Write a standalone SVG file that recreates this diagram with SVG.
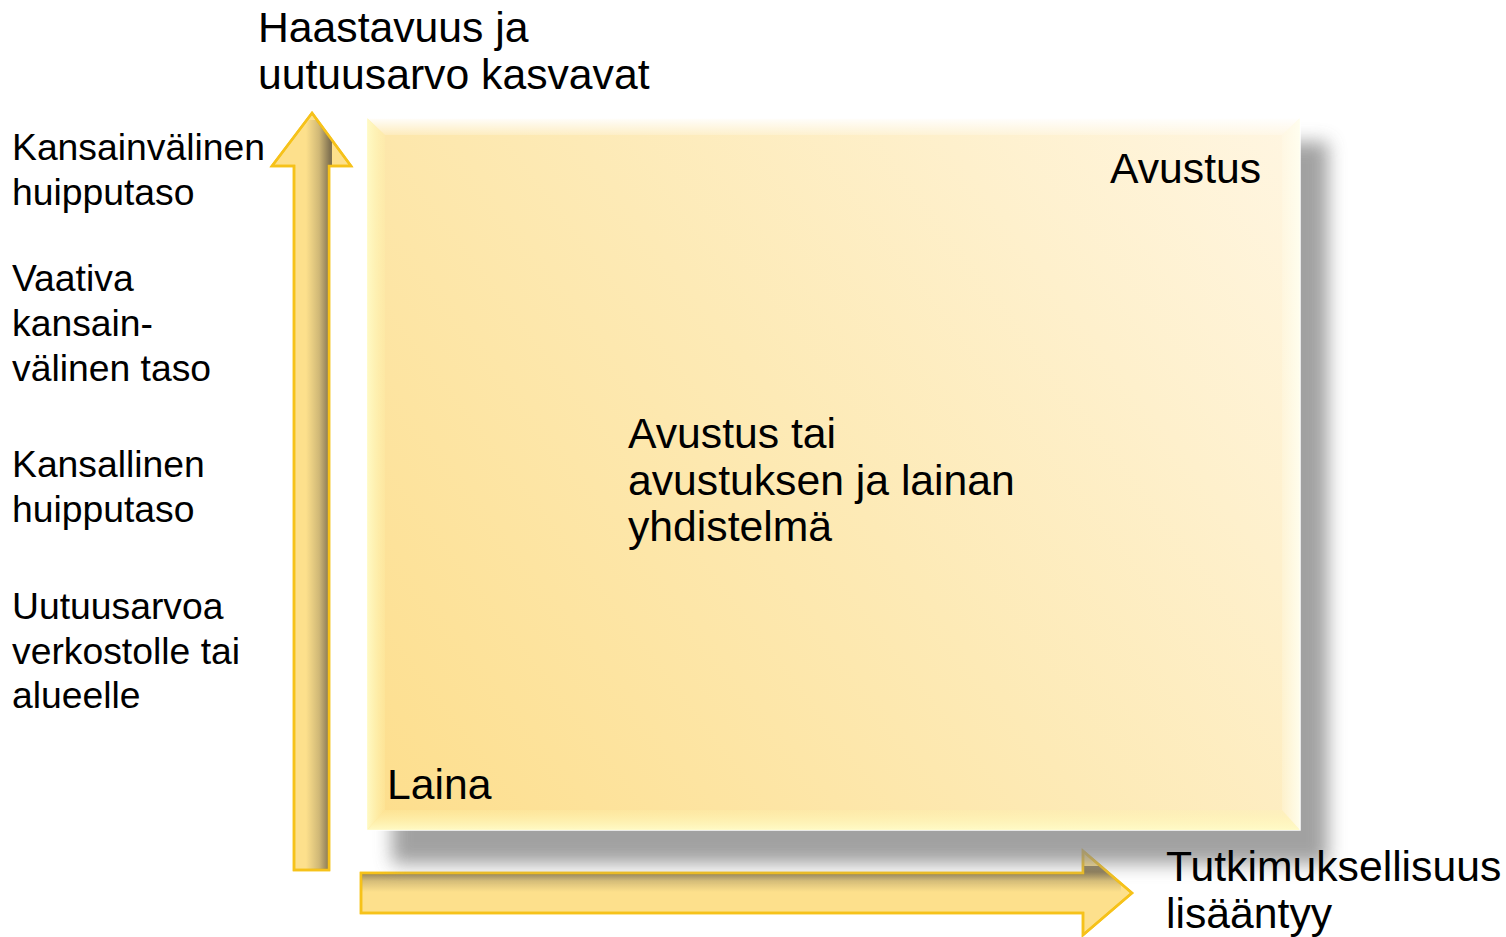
<svg xmlns="http://www.w3.org/2000/svg" width="1506" height="937" viewBox="0 0 1506 937">
<style>
  text { font-family: "Liberation Sans", Arial, sans-serif; fill: #000; }
  .big { font-size: 42.7px; }
  .lbl { font-size: 37.3px; }
  .arrow { fill: #FDE08C; stroke: #F6C21A; stroke-width: 2.5; stroke-linejoin: miter; }
</style>
<defs>
  <linearGradient id="boxFill" x1="367" y1="830" x2="1300" y2="118" gradientUnits="userSpaceOnUse">
    <stop offset="0" stop-color="#FDDE8C"/>
    <stop offset="0.5" stop-color="#FDEAB6"/>
    <stop offset="1" stop-color="#FFF6E2"/>
  </linearGradient>
  <linearGradient id="bevTop" x1="0" y1="0" x2="0" y2="1">
    <stop offset="0" stop-color="#FFFFFF" stop-opacity="0.95"/>
    <stop offset="1" stop-color="#FFFFFF" stop-opacity="0.2"/>
  </linearGradient>
  <linearGradient id="bevLeft" x1="0" y1="0" x2="1" y2="0">
    <stop offset="0" stop-color="#FFFBC8" stop-opacity="0.95"/>
    <stop offset="1" stop-color="#FFF6B0" stop-opacity="0.2"/>
  </linearGradient>
  <linearGradient id="bevBottom" x1="0" y1="1" x2="0" y2="0">
    <stop offset="0" stop-color="#FFFBC8" stop-opacity="0.95"/>
    <stop offset="1" stop-color="#FFF6B0" stop-opacity="0.2"/>
  </linearGradient>
  <linearGradient id="bevRight" x1="1" y1="0" x2="0" y2="0">
    <stop offset="0" stop-color="#FFFFF0" stop-opacity="0.9"/>
    <stop offset="1" stop-color="#FFFFF0" stop-opacity="0.2"/>
  </linearGradient>
  <filter id="shadow" x="-10%" y="-10%" width="120%" height="120%">
    <feGaussianBlur stdDeviation="9"/>
  </filter>
  <linearGradient id="upShade" x1="306" y1="0" x2="330" y2="0" gradientUnits="userSpaceOnUse">
    <stop offset="0" stop-color="#7A6C4E" stop-opacity="0"/>
    <stop offset="0.55" stop-color="#7A6C4E" stop-opacity="0.35"/>
    <stop offset="1" stop-color="#7A6C4E" stop-opacity="0.95"/>
  </linearGradient>
  <linearGradient id="rightShade" x1="0" y1="872" x2="0" y2="892" gradientUnits="userSpaceOnUse">
    <stop offset="0" stop-color="#7A6C4E" stop-opacity="0.85"/>
    <stop offset="0.45" stop-color="#7A6C4E" stop-opacity="0.3"/>
    <stop offset="1" stop-color="#7A6C4E" stop-opacity="0"/>
  </linearGradient>
  <clipPath id="upClip">
    <polygon points="312,113 351,166 329,166 329,870 294,870 294,166 272,166"/>
  </clipPath>
  <clipPath id="rightClip">
    <polygon points="361,873 1083,873 1083,851 1132,893 1083,935 1083,913 361,913"/>
  </clipPath>
</defs>

<rect width="1506" height="937" fill="#FFFFFF"/>

<g id="connectors">
  <g id="axis-up">
    <polygon class="arrow" points="312,113 351,166 329,166 329,870 294,870 294,166 272,166"/>
    <g clip-path="url(#upClip)">
      <rect x="300" y="120" width="32" height="752" fill="url(#upShade)"/>
    </g>
    <polygon points="312,113 351,166 329,166 329,870 294,870 294,166 272,166" fill="none" stroke="#F6C21A" stroke-width="2.5"/>
  </g>
  <g id="axis-right">
    <polygon class="arrow" points="361,873 1083,873 1083,851 1132,893 1083,935 1083,913 361,913"/>
    <g clip-path="url(#rightClip)">
      <rect x="361" y="866" width="760" height="28" fill="url(#rightShade)"/>
    </g>
    <polygon points="361,873 1083,873 1083,851 1132,893 1083,935 1083,913 361,913" fill="none" stroke="#F6C21A" stroke-width="2.5"/>
  </g>
</g>

<g id="box">
  <rect x="392" y="142" width="936" height="722" fill="#8A8A8A" opacity="0.8" filter="url(#shadow)"/>
  <rect x="367" y="118" width="933" height="712" fill="url(#boxFill)" stroke="#FFFFFF" stroke-width="1.5"/>
  <polygon points="367,118 1300,118 1282,135 385,135" fill="url(#bevTop)"/>
  <polygon points="367,118 385,135 385,810 367,830" fill="url(#bevLeft)"/>
  <polygon points="367,830 385,810 1282,810 1300,830" fill="url(#bevBottom)"/>
  <polygon points="1300,118 1300,830 1282,810 1282,135" fill="url(#bevRight)"/>
</g>

<g id="title">
  <text class="big" x="258" y="42">Haastavuus ja</text>
  <text class="big" x="258" y="89">uutuusarvo kasvavat</text>
</g>

<g id="level-1">
  <text class="lbl" x="12" y="160">Kansainvälinen</text>
  <text class="lbl" x="12" y="205">huipputaso</text>
</g>
<g id="level-2">
  <text class="lbl" x="12" y="291">Vaativa</text>
  <text class="lbl" x="12" y="336">kansain-</text>
  <text class="lbl" x="12" y="381">välinen taso</text>
</g>
<g id="level-3">
  <text class="lbl" x="12" y="477">Kansallinen</text>
  <text class="lbl" x="12" y="522">huipputaso</text>
</g>
<g id="level-4">
  <text class="lbl" x="12" y="619">Uutuusarvoa</text>
  <text class="lbl" x="12" y="664">verkostolle tai</text>
  <text class="lbl" x="12" y="708">alueelle</text>
</g>

<g id="avustus">
  <text class="big" x="1110" y="183">Avustus</text>
</g>
<g id="yhdistelma">
  <text class="big" x="628" y="448">Avustus tai</text>
  <text class="big" x="628" y="495">avustuksen ja lainan</text>
  <text class="big" x="628" y="541">yhdistelmä</text>
</g>
<g id="laina">
  <text class="big" x="387" y="799">Laina</text>
</g>
<g id="x-label">
  <text class="big" x="1166" y="881">Tutkimuksellisuus</text>
  <text class="big" x="1166" y="928">lisääntyy</text>
</g>
</svg>
